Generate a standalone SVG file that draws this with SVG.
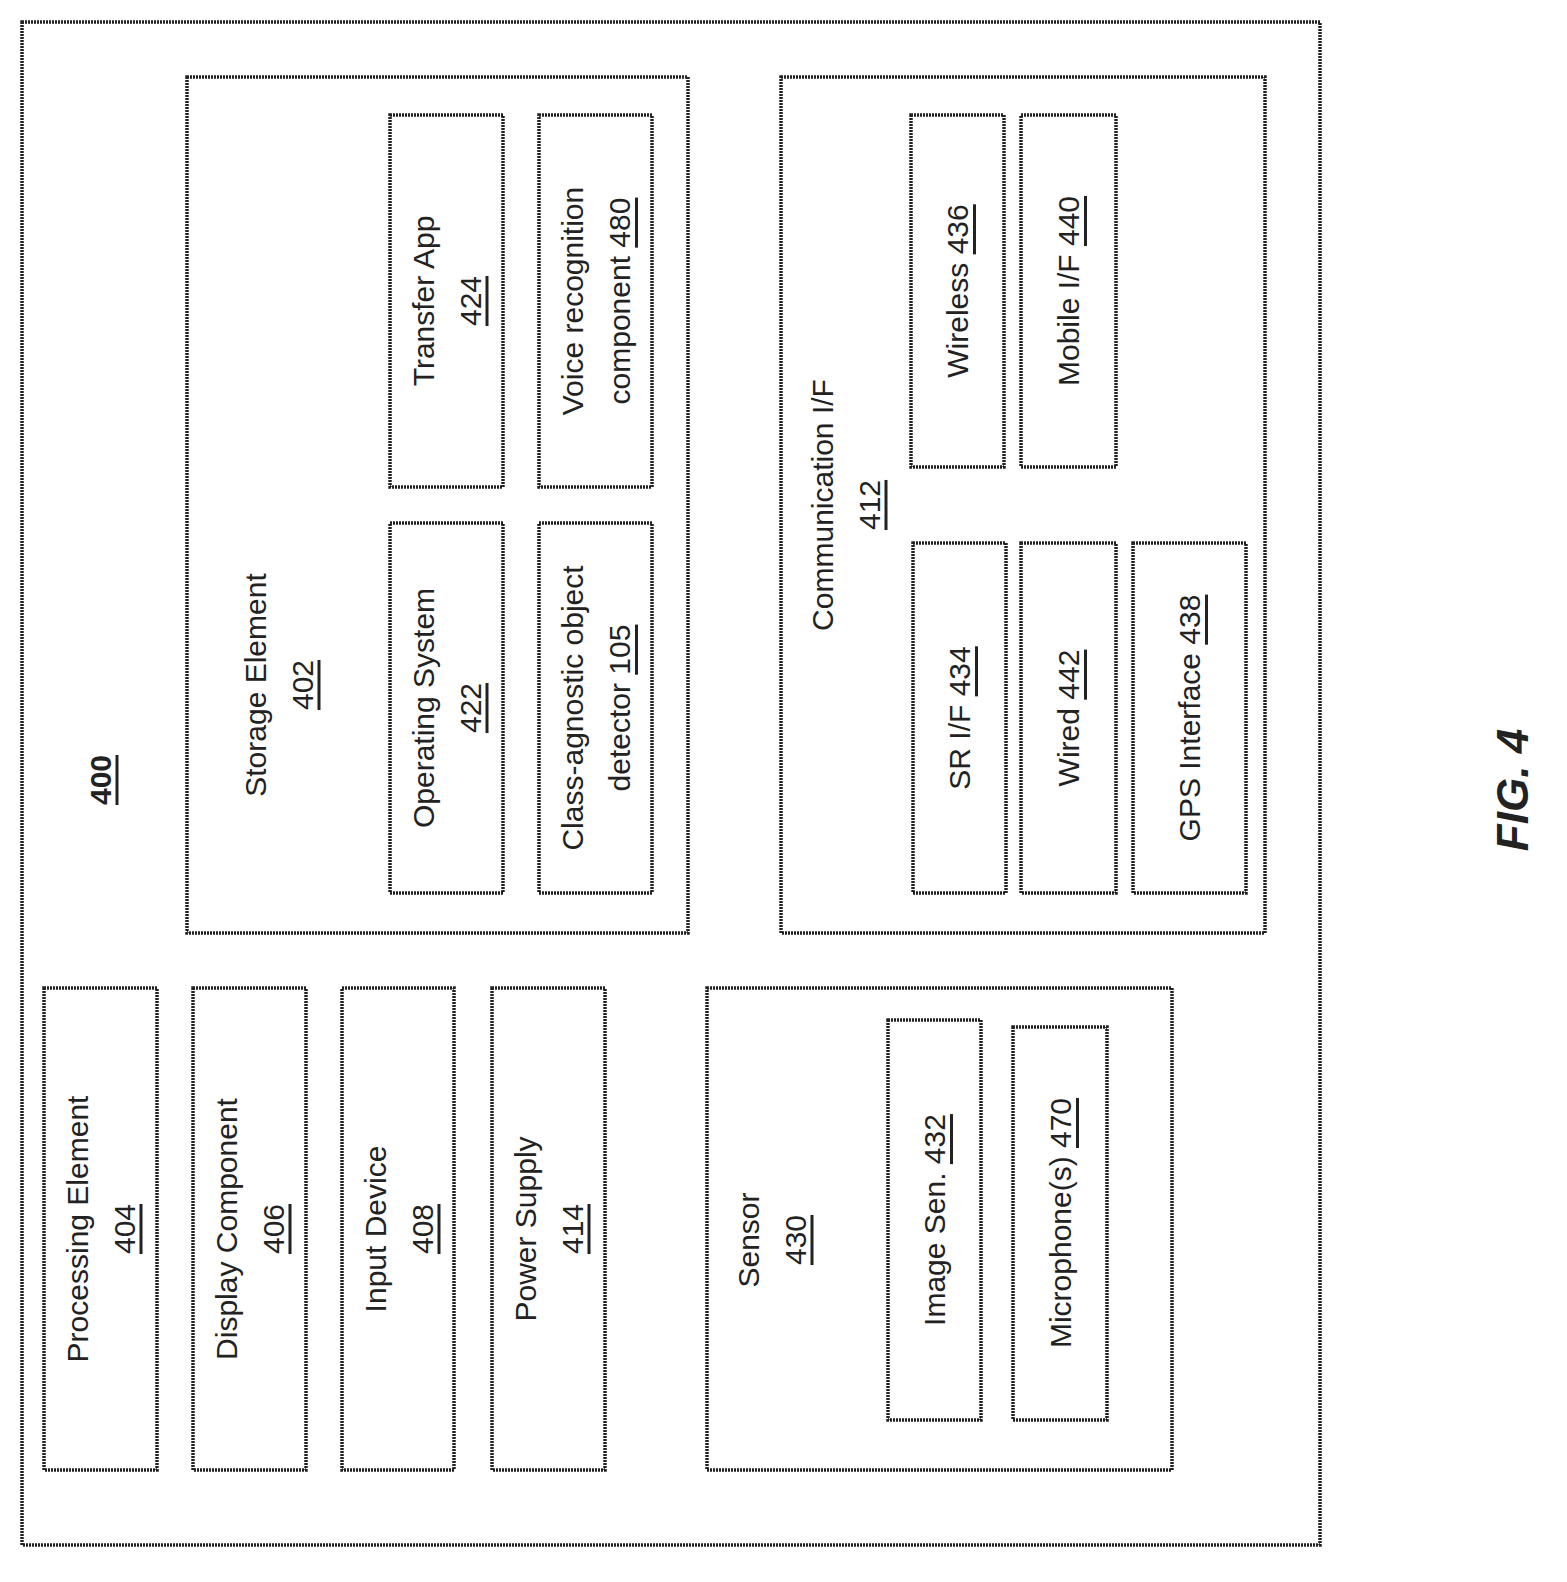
<svg xmlns="http://www.w3.org/2000/svg" width="1567" height="1582" viewBox="0 0 1567 1582">
<style>
rect{fill:none;stroke:#222;stroke-width:3.5;stroke-dasharray:2 1}
text{font-family:"Liberation Sans",Arial,sans-serif;font-size:30px;fill:#222;text-anchor:middle;dominant-baseline:central}
.u{text-decoration:underline}
</style>
<rect width="1567" height="1582" style="fill:#fff;stroke:none"/>
<g id="n400"><rect x="22" y="22" width="1298" height="1523"/><text class="u" transform="translate(100,780) rotate(-90)" style="font-weight:bold">400</text></g>
<g id="n402"><rect x="187" y="77" width="501" height="856"/><text transform="translate(255,685) rotate(-90)">Storage Element</text><text class="u" transform="translate(302,685) rotate(-90)">402</text></g>
<g id="n422"><rect x="390" y="523" width="113" height="370"/><text transform="translate(423,708) rotate(-90)">Operating System</text><text class="u" transform="translate(470,708) rotate(-90)">422</text></g>
<g id="n424"><rect x="390" y="115" width="113" height="372"/><text transform="translate(423,301) rotate(-90)">Transfer App</text><text class="u" transform="translate(470,301) rotate(-90)">424</text></g>
<g id="n105"><rect x="539" y="523" width="113" height="370"/><text transform="translate(572,708) rotate(-90)">Class-agnostic object</text><text transform="translate(619,708) rotate(-90)">detector <tspan class="u">105</tspan></text></g>
<g id="n480"><rect x="539" y="115" width="113" height="372"/><text transform="translate(572,301) rotate(-90)">Voice recognition</text><text transform="translate(619,301) rotate(-90)">component <tspan class="u">480</tspan></text></g>
<g id="n412"><rect x="781" y="77" width="484" height="856"/><text transform="translate(822,505) rotate(-90)">Communication I/F</text><text class="u" transform="translate(869,505) rotate(-90)">412</text></g>
<g id="n436"><rect x="911" y="115" width="93" height="352"/><text transform="translate(957,291) rotate(-90)">Wireless <tspan class="u">436</tspan></text></g>
<g id="n440"><rect x="1021" y="115" width="95" height="352"/><text transform="translate(1068,291) rotate(-90)">Mobile I/F <tspan class="u">440</tspan></text></g>
<g id="n434"><rect x="913" y="543" width="93" height="350"/><text transform="translate(959,718) rotate(-90)">SR I/F <tspan class="u">434</tspan></text></g>
<g id="n442"><rect x="1021" y="543" width="95" height="350"/><text transform="translate(1068,718) rotate(-90)">Wired <tspan class="u">442</tspan></text></g>
<g id="n438"><rect x="1133" y="543" width="113" height="350"/><text transform="translate(1189,718) rotate(-90)">GPS Interface <tspan class="u">438</tspan></text></g>
<g id="n404"><rect x="44" y="988" width="113" height="482"/><text transform="translate(77,1229) rotate(-90)">Processing Element</text><text class="u" transform="translate(124,1229) rotate(-90)">404</text></g>
<g id="n406"><rect x="193" y="988" width="113" height="482"/><text transform="translate(226,1229) rotate(-90)">Display Component</text><text class="u" transform="translate(273,1229) rotate(-90)">406</text></g>
<g id="n408"><rect x="342" y="988" width="112" height="482"/><text transform="translate(375,1229) rotate(-90)">Input Device</text><text class="u" transform="translate(422,1229) rotate(-90)">408</text></g>
<g id="n414"><rect x="492" y="988" width="113" height="482"/><text transform="translate(525,1229) rotate(-90)">Power Supply</text><text class="u" transform="translate(572,1229) rotate(-90)">414</text></g>
<g id="n430"><rect x="707" y="988" width="465" height="482"/><text transform="translate(748,1240) rotate(-90)">Sensor</text><text class="u" transform="translate(795,1240) rotate(-90)">430</text></g>
<g id="n432"><rect x="888" y="1020" width="93" height="400"/><text transform="translate(934,1220) rotate(-90)">Image Sen. <tspan class="u">432</tspan></text></g>
<g id="n470"><rect x="1013" y="1027" width="94" height="393"/><text transform="translate(1060,1223) rotate(-90)">Microphone(s) <tspan class="u">470</tspan></text></g>
<g id="connectors"></g>
<text transform="translate(1512,790) rotate(-90)" style="font-size:44px;font-weight:bold;font-style:italic">FIG. 4</text>
</svg>
